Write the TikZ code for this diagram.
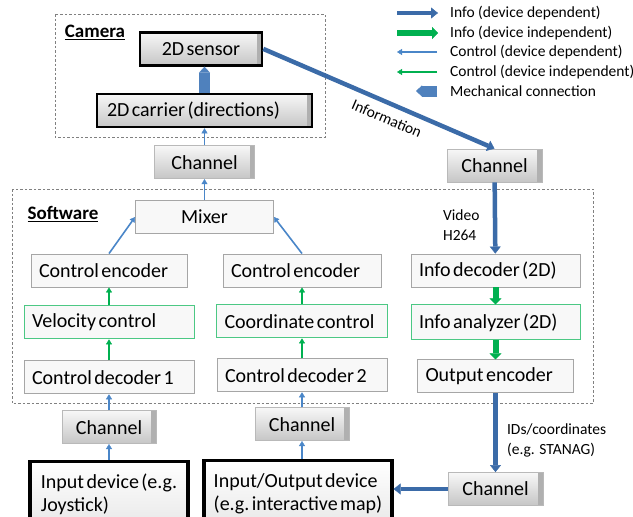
\documentclass[tikz,border=0pt]{standalone}
\usepackage{fontspec}
\setmainfont{Carlito}
\usetikzlibrary{arrows.meta,positioning,calc}
\definecolor{cmDark}{HTML}{3B6BA8}
\definecolor{cmLight}{HTML}{4A86C8}
\definecolor{cmMech}{HTML}{4F81BD}
\definecolor{cmGreen}{HTML}{00B050}
\definecolor{cmFrame}{HTML}{808080}
\definecolor{cmPanel}{HTML}{F8F8F8}
\newcommand{\cmtight}[1]{\fontdimen2\font=#1\relax\fontdimen3\font=0pt\relax\fontdimen4\font=0pt\relax\frenchspacing}
\newcommand{\cmgap}{\spaceskip=2.4pt\relax\xspaceskip=2.4pt\relax}

\begin{document}
\begin{tikzpicture}[x=1pt,y=-1pt,
  font={\fontsize{20}{23}\selectfont\cmtight{2.4pt}},
  panel/.style={draw=cmFrame,line width=0.8pt,dash pattern=on 2.5pt off 2pt},
  hdr/.style={font=\fontsize{19}{23}\selectfont\bfseries,inner sep=0pt},
  swbox/.style={draw=gray!70,fill=cmPanel,line width=0.9pt,minimum height=33pt,inner xsep=8pt,align=left,execute at begin node=\cmgap},
  ctlbox/.style={swbox,draw=cmGreen!70},
  bevel/.style={draw=gray!55,line width=0.8pt,top color=gray!6,bottom color=gray!45,minimum height=33pt,align=center,
    path picture={\fill[gray!62] ([xshift=-5pt]path picture bounding box.north east) rectangle (path picture bounding box.south east);}},
  hwbox/.style={bevel,draw=black,line width=2.6pt},
  devbox/.style={draw=black,line width=3.2pt,top color=white,bottom color=gray!18,minimum height=66pt,align=left},
  ctl/.style={-{Triangle[length=5pt,width=6pt,line width=0.4pt]},line width=1.6pt,cmLight},
  ctlg/.style={ctl,cmGreen},
  info/.style={-{Triangle[length=7pt,width=11pt,line width=0.4pt]},line width=4.5pt,cmDark},
  infog/.style={-{Triangle[length=6pt,width=12pt,line width=0.4pt]},line width=6pt,cmGreen},
  mech/.style={-{Triangle[length=6pt,width=11pt,line width=0.4pt]},line width=11pt,cmMech},
  note/.style={font=\fontsize{15.5}{20}\selectfont,align=left,text=black},
  legtext/.style={font=\fontsize{15.5}{18}\selectfont,anchor=west,inner sep=0pt}
]
  \useasboundingbox (0,0) rectangle (633,517);

  % legend
  \node[legtext] (legA) at (450,13) {Info (device dependent)};
  \node[legtext] (legB) at (450,33) {Info (device independent)};
  \node[legtext] (legC) at (450,52) {Control (device dependent)};
  \node[legtext] (legD) at (450,72) {Control (device independent)};
  \node[legtext] (legE) at (450,91) {Mechanical connection};
  \coordinate (legAo) at (397,13);
  \coordinate (legBo) at (397,33);
  \coordinate (legCo) at (397,52);
  \coordinate (legDo) at (397,72);
  \coordinate (legEo) at (416,91);
  \draw[info,shorten >=12pt] (legAo) -- (legA.west);
  \draw[infog,shorten >=12pt] (legBo) -- (legB.west);
  \draw[ctl,shorten <=13pt] (legC.west) -- (legCo);
  \draw[ctlg,shorten <=13pt] (legD.west) -- (legDo);
  \draw[mech,shorten <=13pt] (legE.west) -- (legEo);

  % camera
  \draw[panel] (55,14) rectangle (325,137);
  \node[hdr] (camlbl) at (95,32) {\underline{Camera}};
  \node[hwbox,text width=195pt,inner xsep=10pt,align=left,execute at begin node=\cmgap] (carrier) at (204.5,110.5) {2D carrier (directions)};
  \node[hwbox,minimum width=122pt,above=26pt of carrier,xshift=-3.5pt] (sensor) {2D sensor};
  \node[bevel,minimum width=100pt,below=17pt of carrier] (camch) {Channel};
  \node[bevel,minimum width=95pt] (infoch) at (494.5,165.5) {Channel};

  % software
  \draw[panel] (12,189) rectangle (593,403);
  \node[hdr] (swlbl) at (63,214) {\underline{Software}};
  \node[swbox,minimum width=138pt,align=center,below=21pt of camch] (mixer) {Mixer};
  \node[swbox,text width=140pt] (enc1) at (109,270.5) {Control encoder};
  \node[ctlbox,text width=154pt,below=18pt of enc1] (vel) {Velocity control};
  \node[swbox,text width=154pt,below=21pt of vel] (dec1) {Control decoder 1};
  \node[swbox,text width=142pt] (enc2) at (302,270.5) {Control encoder};
  \node[ctlbox,text width=155pt,below=17pt of enc2] (coord) {Coordinate control};
  \node[swbox,text width=154pt,below=20pt of coord] (dec2) {Control decoder 2};
  \node[swbox,text width=153pt] (infodec) at (495.5,270.5) {Info decoder (2D)};
  \node[ctlbox,text width=153pt,minimum height=35pt,below=17pt of infodec] (infoana) {Info analyzer (2D)};
  \node[swbox,text width=140pt,below=19pt of infoana] (outenc) {Output encoder};

  % channels and devices
  \node[bevel,minimum width=94pt,below=16pt of dec1] (ch1) {Channel};
  \node[bevel,minimum width=94pt,below=15pt of dec2] (ch2) {Channel};
  \node[bevel,minimum width=95pt] (ch3) at (495.5,489) {Channel};
  \node[devbox,minimum width=158pt,below=16pt of ch1] (indev) {Input device (e.g.\\Joystick)};
  \node[devbox,minimum width=188pt,below=18pt of ch2,xshift=-4pt] (iodev) {Input/Output device\\(e.g. interactive map)};

  % connections
  \draw[mech] (carrier.north) -- (carrier.north |- sensor.south);
  \draw[ctl] (camch) -- (carrier);
  \draw[ctl] (mixer) -- (camch);
  \draw[ctl] (enc1.north) -- (mixer.west);
  \draw[ctl] (enc2.north) -- (mixer.east);
  \draw[ctlg] (vel) -- (enc1);
  \draw[ctlg] (dec1) -- (vel);
  \draw[ctlg] (coord) -- (enc2);
  \draw[ctlg] (dec2) -- (coord);
  \draw[ctl] (ch1) -- (dec1);
  \draw[ctl] (indev) -- (ch1);
  \draw[ctl] (ch2) -- (dec2);
  \draw[ctl] (ch2.south |- iodev.north) -- (ch2.south);
  \draw[info] (sensor.east) -- node[note,sloped,below=4pt,pos=0.56] (infolbl) {Information} (infoch.north);
  \draw[info] (infoch) -- node[note,left=10pt,pos=0.6] (vidlbl) {Video\\H264} (infodec);
  \draw[infog] (infodec) -- (infoana);
  \draw[infog] (infoana) -- (outenc);
  \draw[info] (outenc) -- node[note,right=6pt,pos=0.6] (idlbl) {IDs/coordinates\\(e.g. STANAG)} (ch3);
  \draw[info] (ch3.west) -- (ch3.west -| iodev.east);
\end{tikzpicture}
\end{document}
